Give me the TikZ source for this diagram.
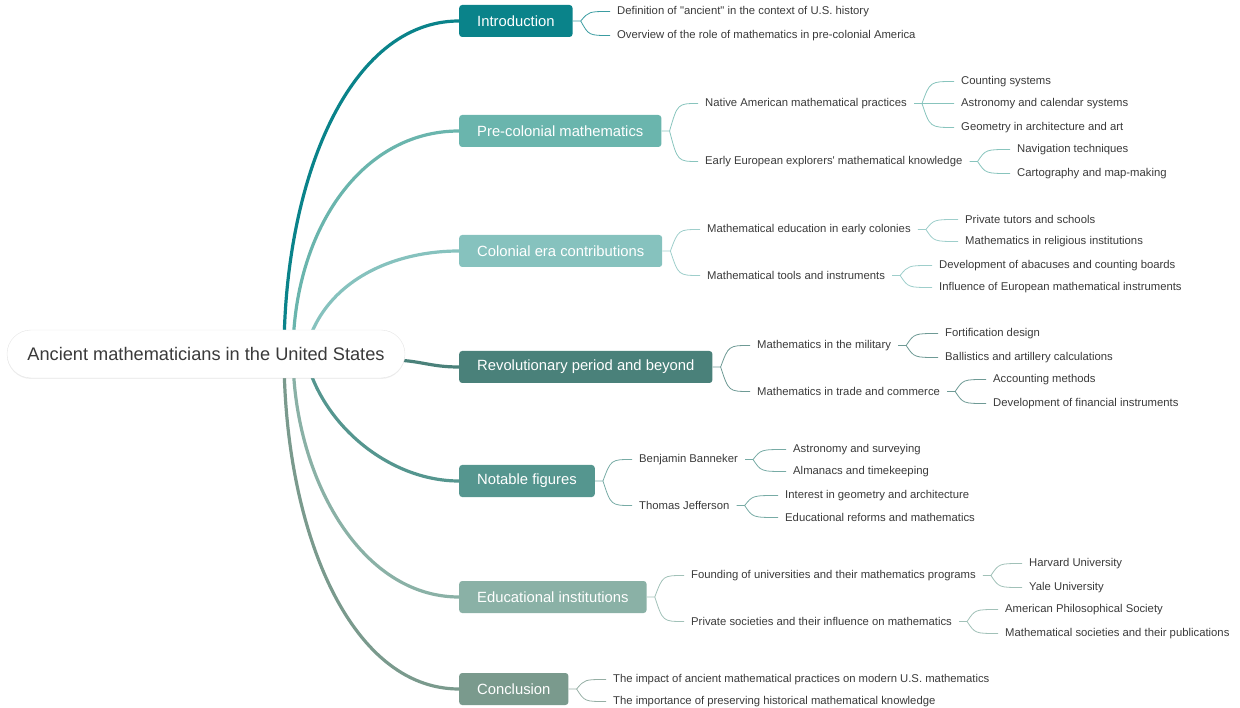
\documentclass[tikz,border=0pt]{standalone}
\usepackage{fontspec}
\setmainfont{Liberation Sans}
\usetikzlibrary{backgrounds,shadows}
\definecolor{intro}{HTML}{0A838A}
\definecolor{precol}{HTML}{6AB5AD}
\definecolor{colon}{HTML}{86C2BE}
\definecolor{revol}{HTML}{4A817A}
\definecolor{notable}{HTML}{55968F}
\definecolor{educ}{HTML}{8AB1A6}
\definecolor{concl}{HTML}{7A9A8D}
\definecolor{txt}{HTML}{3A3A3A}
\begin{document}
\begin{tikzpicture}[
  x=1pt, y=-1pt,
  root/.style={rectangle, rounded corners=24pt, draw=black!10, fill=white, minimum width=398pt, minimum height=48pt, text=txt, font=\fontsize{18.2}{22}\selectfont, drop shadow={shadow xshift=0pt, shadow yshift=-1pt, opacity=0.12}},
  topic/.style={rectangle, rounded corners=3pt, fill=#1, text=white, anchor=west, minimum height=32pt, inner xsep=18pt, yshift=-1pt, font=\fontsize{14.8}{17}\selectfont},
  leaf/.style={anchor=west, inner xsep=7pt, inner ysep=2pt, yshift=-1.5pt, text=txt, font=\fontsize{11.3}{13}\selectfont},
  trunk/.style={line width=3.2pt, draw=#1},
  twig/.style={line width=0.8pt, draw=#1!80, to path={-- ++(8,0) .. controls ([xshift=16pt]\tikztostart |- \tikztotarget) .. (\tikztotarget)}}
]
\useasboundingbox (0,0) rectangle (1240,708);

% Central topic
\node (root) [root] at (206,354) {Ancient mathematicians in the United States};

% Main topics
\node (intro) [topic=intro] at (459,20) {Introduction};
\node (precol) [topic=precol] at (459,130) {Pre-colonial mathematics};
\node (colon) [topic=colon] at (459,250) {Colonial era contributions};
\node (revol) [topic=revol] at (459,366) {Revolutionary period and beyond};
\node (notable) [topic=notable] at (459,480) {Notable figures};
\node (educ) [topic=educ] at (459,596) {Educational institutions};
\node (concl) [topic=concl] at (459,688) {Conclusion};

% Introduction
\node (a1) [leaf] at (610,10) {Definition of \textquotedbl ancient\textquotedbl\ in the context of U.S. history};
\node (a2) [leaf] at (610,34) {Overview of the role of mathematics in pre-colonial America};

% Pre-colonial mathematics
\node (b1) [leaf] at (698,102) {Native American mathematical practices};
\node (b2) [leaf] at (698,160) {Early European explorers\textquotesingle\ mathematical knowledge};
\node (b11) [leaf] at (954,80) {Counting systems};
\node (b12) [leaf] at (954,102) {Astronomy and calendar systems};
\node (b13) [leaf] at (954,126) {Geometry in architecture and art};
\node (b21) [leaf] at (1010,148) {Navigation techniques};
\node (b22) [leaf] at (1010,172) {Cartography and map-making};

% Colonial era contributions
\node (c1) [leaf] at (700,228) {Mathematical education in early colonies};
\node (c2) [leaf] at (700,274) {Mathematical tools and instruments};
\node (c11) [leaf] at (958,218) {Private tutors and schools};
\node (c12) [leaf] at (958,240) {Mathematics in religious institutions};
\node (c21) [leaf] at (932,264) {Development of abacuses and counting boards};
\node (c22) [leaf] at (932,286) {Influence of European mathematical instruments};

% Revolutionary period and beyond
\node (d1) [leaf] at (750,344) {Mathematics in the military};
\node (d2) [leaf] at (750,390) {Mathematics in trade and commerce};
\node (d11) [leaf] at (938,332) {Fortification design};
\node (d12) [leaf] at (938,356) {Ballistics and artillery calculations};
\node (d21) [leaf] at (986,378) {Accounting methods};
\node (d22) [leaf] at (986,402) {Development of financial instruments};

% Notable figures
\node (e1) [leaf] at (632,458) {Benjamin Banneker};
\node (e2) [leaf] at (632,504) {Thomas Jefferson};
\node (e11) [leaf] at (786,448) {Astronomy and surveying};
\node (e12) [leaf] at (786,470) {Almanacs and timekeeping};
\node (e21) [leaf] at (778,494) {Interest in geometry and architecture};
\node (e22) [leaf] at (778,516) {Educational reforms and mathematics};

% Educational institutions
\node (f1) [leaf] at (684,574) {Founding of universities and their mathematics programs};
\node (f2) [leaf] at (684,620) {Private societies and their influence on mathematics};
\node (f11) [leaf] at (1022,562) {Harvard University};
\node (f12) [leaf] at (1022,586) {Yale University};
\node (f21) [leaf] at (998,608) {American Philosophical Society};
\node (f22) [leaf] at (998,632) {Mathematical societies and their publications};

% Conclusion
\node (g1) [leaf] at (606,678) {The impact of ancient mathematical practices on modern U.S. mathematics};
\node (g2) [leaf] at (606,700) {The importance of preserving historical mathematical knowledge};

% Trunks from the central topic
\coordinate (s1) at (284,354);
\coordinate (s2) at (293,354);
\coordinate (s3) at (305,354);
\coordinate (s4) at (390,360);
\coordinate (s5) at (305,354);
\coordinate (s6) at (293,354);
\coordinate (s7) at (284,354);
\begin{scope}[on background layer]
\draw[trunk=intro] (s1) .. controls +(0,-174) and +(-110,0) .. (intro.west);
\draw[trunk=precol] (s2) .. controls +(0,-120) and +(-100,0) .. (precol.west);
\draw[trunk=colon] (s3) .. controls +(15,-70) and +(-70,0) .. (colon.west);
\draw[trunk=revol] (s4) .. controls +(30,0) and +(-30,0) .. (revol.west);
\draw[trunk=notable] (s5) .. controls +(15,70) and +(-70,0) .. (notable.west);
\draw[trunk=educ] (s6) .. controls +(0,120) and +(-100,0) .. (educ.west);
\draw[trunk=concl] (s7) .. controls +(0,174) and +(-110,0) .. (concl.west);
\end{scope}

% Twigs
\draw[twig=intro] (intro.east) to (a1.west) (intro.east) to (a2.west);
\draw[twig=precol] (precol.east) to (b1.west) (precol.east) to (b2.west);
\draw[twig=precol] (b1.east) to (b11.west) (b1.east) to (b12.west) (b1.east) to (b13.west);
\draw[twig=precol] (b2.east) to (b21.west) (b2.east) to (b22.west);
\draw[twig=colon] (colon.east) to (c1.west) (colon.east) to (c2.west);
\draw[twig=colon] (c1.east) to (c11.west) (c1.east) to (c12.west);
\draw[twig=colon] (c2.east) to (c21.west) (c2.east) to (c22.west);
\draw[twig=revol] (revol.east) to (d1.west) (revol.east) to (d2.west);
\draw[twig=revol] (d1.east) to (d11.west) (d1.east) to (d12.west);
\draw[twig=revol] (d2.east) to (d21.west) (d2.east) to (d22.west);
\draw[twig=notable] (notable.east) to (e1.west) (notable.east) to (e2.west);
\draw[twig=notable] (e1.east) to (e11.west) (e1.east) to (e12.west);
\draw[twig=notable] (e2.east) to (e21.west) (e2.east) to (e22.west);
\draw[twig=educ] (educ.east) to (f1.west) (educ.east) to (f2.west);
\draw[twig=educ] (f1.east) to (f11.west) (f1.east) to (f12.west);
\draw[twig=educ] (f2.east) to (f21.west) (f2.east) to (f22.west);
\draw[twig=concl] (concl.east) to (g1.west) (concl.east) to (g2.west);

\end{tikzpicture}
\end{document}
